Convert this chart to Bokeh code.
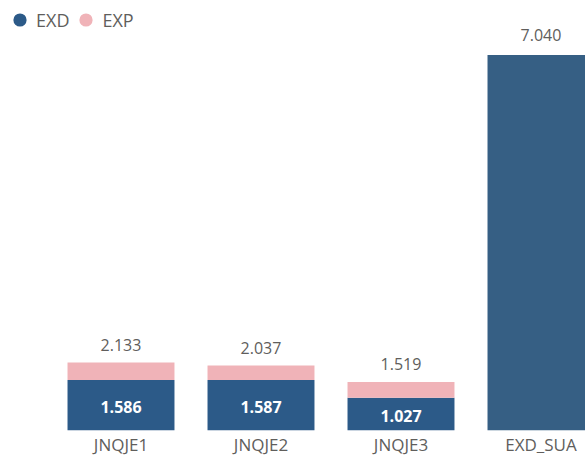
from bokeh.plotting import figure
from bokeh.models import ColumnDataSource, Range1d, FixedTicker, Legend, LegendItem
from bokeh.core.properties import value
from bokeh.embed import file_html
from bokeh.resources import INLINE

# ---- data ----
categories = ["JNQJE1", "JNQJE2", "JNQJE3", "EXD_SUA"]
exd = [1.586, 1.587, 1.027]          # EXD part of stacked bars
totals = [2.133, 2.037, 1.519]       # EXD + EXP totals (labels above bars)
exd_sua = [7.040]                    # EXD_SUA bar (secondary scale)

exp = [round(t - e, 3) for t, e in zip(totals, exd)]

C_EXD = "#2c5a88"
C_SUA = "#365f84"
C_EXP = "#f0b3b8"
C_TXT = "#605e5c"
FONT = "Open Sans"

pos = list(range(len(categories)))
stack_x = pos[:3]
sua_x = pos[3:]

src = ColumnDataSource(dict(
    x=stack_x, exd=exd, exp=exp, tot=totals,
    mid=[e / 2 for e in exd],
    tot_lbl=[f"{t:.3f}" for t in totals],
    exd_lbl=[f"{e:.3f}" for e in exd],
))
sua_src = ColumnDataSource(dict(x=sua_x, v=exd_sua, lbl=[f"{v:.3f}" for v in exd_sua]))

p = figure(width=585, height=458, output_backend="svg", toolbar_location=None,
           x_range=Range1d(-0.8607, 3.3179), y_range=Range1d(0, 13.49),
           min_border_left=0, min_border_right=0, min_border_top=0, min_border_bottom=28)
p.extra_y_ranges = {"sua": Range1d(0, 8.06)}

bars = p.vbar_stack(["exd", "exp"], x="x", width=0.764, source=src,
                    fill_color=[C_EXD, C_EXP], line_color=None)
p.vbar(x="x", top="v", width=0.764, source=sua_src, y_range_name="sua",
       fill_color=C_SUA, line_color=None)

# labels
p.text(x="x", y="tot", text="tot_lbl", source=src, text_align="center",
       text_baseline="alphabetic", y_offset=-18, text_font=value(FONT),
       text_font_size="16px", text_color=C_TXT)
p.text(x="x", y="v", text="lbl", source=sua_src, y_range_name="sua",
       text_align="center", text_baseline="alphabetic", y_offset=-20,
       text_font=value(FONT), text_font_size="16px", text_color=C_TXT)
p.text(x="x", y="mid", text="exd_lbl", source=src, text_align="center",
       text_baseline="middle", y_offset=2, text_font=value(FONT),
       text_font_size="16px", text_color="white", text_font_style="bold")

# legend with circle markers (size 0 in the plot; legend sizes its own glyph)
d1 = p.scatter(x="x", y="exd", source=src, marker="circle", size=0,
               fill_color=C_EXD, line_color=None)
d2 = p.scatter(x="x", y="tot", source=src, marker="circle", size=0,
               fill_color=C_EXP, line_color=None)
legend = Legend(items=[LegendItem(label="EXD", renderers=[d1]),
                       LegendItem(label="EXP", renderers=[d2])],
                orientation="horizontal", location="top_left",
                glyph_width=33, glyph_height=33, label_standoff=0, spacing=0,
                padding=0, margin=3, border_line_alpha=0, background_fill_alpha=0,
                label_text_font=FONT, label_text_font_size="18px",
                label_text_color=C_TXT)
p.add_layout(legend, "center")

# axes
p.yaxis.visible = False
p.xgrid.visible = False
p.ygrid.visible = False
p.outline_line_color = None
ax = p.xaxis[0]
ax.ticker = FixedTicker(ticks=pos)
ax.major_label_overrides = {i: c for i, c in zip(pos, categories)}
ax.axis_line_color = None
ax.major_tick_line_color = None
ax.minor_tick_line_color = None
ax.major_tick_out = 0
ax.major_tick_in = 0
ax.major_label_standoff = 2
ax.major_label_text_font = FONT
ax.major_label_text_font_size = "17px"
ax.major_label_text_color = C_TXT

open("out.html", "w").write(file_html(p, INLINE))
